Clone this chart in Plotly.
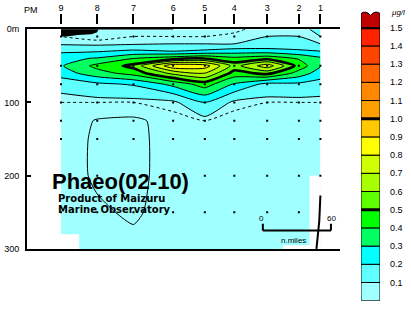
import plotly.graph_objects as go

W, H = 411, 311
def fx(px): return px / W
def fy(py): return 1 - py / H

# ---------------- data ----------------
stations = ['9', '8', '7', '6', '5', '4', '3', '2', '1']
station_nmi = [0, 32, 64, 99, 127, 153, 182, 210, 229]
depths = [0, 10, 20, 30, 40, 50, 60, 75, 100, 125, 150, 200, 250, 300]
bottom_depth = [280, 300, 300, 300, 300, 300, 300, 295, 200]
sample_depths = [10, 50, 75, 100, 125, 150, 200, 250]

# Phaeo (ug/l); rows = depth, columns = stations 9..1
phaeo = [
    [0.05, 0.05, 0.05, 0.05, 0.06, 0.06, 0.09, 0.09, 0.11],
    [0.07, 0.06, 0.07, 0.07, 0.07, 0.08, 0.10, 0.10, 0.10],
    [0.09, 0.08, 0.09, 0.10, 0.10, 0.10, 0.11, 0.12, 0.10],
    [0.18, 0.19, 0.22, 0.20, 0.22, 0.25, 0.25, 0.22, 0.20],
    [0.27, 0.31, 0.40, 0.46, 0.50, 0.43, 0.47, 0.39, 0.32],
    [0.29, 0.43, 0.53, 0.88, 0.85, 0.56, 0.76, 0.46, 0.31],
    [0.25, 0.36, 0.44, 0.63, 0.70, 0.46, 0.53, 0.36, 0.25],
    [0.13, 0.18, 0.21, 0.33, 0.45, 0.29, 0.17, 0.18, 0.16],
    [0.07, 0.07, 0.07, 0.08, 0.20, 0.08, 0.07, 0.07, 0.07],
    [0.065, 0.048, 0.045, 0.06, 0.07, 0.058, 0.058, 0.058, 0.058],
    [0.065, 0.045, 0.04, 0.065, 0.06, 0.058, 0.058, 0.058, 0.058],
    [0.065, 0.045, 0.04, 0.065, 0.06, 0.058, 0.058, 0.058, 0.058],
    [0.065, 0.055, 0.045, 0.065, 0.06, 0.058, 0.058, 0.058, 0.058],
    [0.065, 0.06, 0.06, 0.065, 0.06, 0.058, 0.058, 0.058, 0.058],
]

cb_bounds = [round(0.1 * k, 1) for k in range(15)]
cb_labels = ['0.1', '0.2', '0.3', '0.4', '0.5', '0.6', '0.7', '0.8', '0.9', '1.0',
             '1.1', '1.2', '1.3', '1.4', '1.5']
colors = ['#a0ffff', '#60ffff', '#00ffff', '#00ff60', '#00ff00', '#60ff00', '#a8ff00',
          '#d0ff00', '#ffff00', '#ffc800', '#ffa000', '#ff8800', '#ff6600', '#ff4400',
          '#ff2200', '#c00000']

# ---------------- figure ----------------
fig = go.Figure()
cscale = [[k / 15, c] for k, c in enumerate(colors)]

fig.add_trace(go.Contour(
    x=station_nmi, y=depths, z=phaeo, colorscale=cscale, showscale=False,
    autocontour=False, contours=dict(start=0.1, end=1.5, size=0.1, coloring='fill'),
    line=dict(color='black', width=1, smoothing=0.6), hoverinfo='skip'))
fig.add_trace(go.Contour(
    x=station_nmi, y=depths, z=phaeo, showscale=False, autocontour=False,
    contours=dict(start=0.05, end=0.05, size=1, coloring='none'),
    line=dict(color='black', width=1, smoothing=0.6), hoverinfo='skip'))
fig.add_trace(go.Contour(
    x=station_nmi, y=depths, z=phaeo, showscale=False, autocontour=False,
    contours=dict(start=0.07, end=0.07, size=1, coloring='none'),
    line=dict(color='black', width=1, dash='dot', smoothing=0.6), hoverinfo='skip'))
fig.add_trace(go.Contour(
    x=station_nmi, y=depths, z=phaeo, showscale=False, autocontour=False,
    contours=dict(start=0.5, end=1.5, size=0.5, coloring='none'),
    line=dict(color='black', width=2.6, smoothing=0.6), hoverinfo='skip'))

# bottom mask
fig.add_trace(go.Scatter(x=station_nmi, y=[300] * len(station_nmi), mode='lines',
                         line=dict(width=0, color='white'), hoverinfo='skip'))
fig.add_trace(go.Scatter(x=station_nmi, y=bottom_depth, mode='lines',
                         line=dict(width=0, color='white', shape='hvh'),
                         fill='tonexty', fillcolor='white', hoverinfo='skip'))

# sample dots
dx, dy = [], []
for s, b in zip(station_nmi, bottom_depth):
    for d in sample_depths:
        if d <= b:
            dx.append(s)
            dy.append(d)
fig.add_trace(go.Scatter(x=dx, y=dy, mode='markers',
                         marker=dict(symbol='square', size=2, color='black', line=dict(width=0)),
                         hoverinfo='skip'))

# station axis carrier
fig.add_trace(go.Scatter(x=station_nmi, y=[0] * len(station_nmi), xaxis='x3', yaxis='y',
                         mode='markers', marker=dict(opacity=0), hoverinfo='skip'))

# colour bar
fig.add_trace(go.Bar(x=[0] * 15, y=[0.1] * 15, base=cb_bounds, width=1,
                     marker=dict(color=colors[:15], line=dict(color='black', width=1)),
                     xaxis='x2', yaxis='y2', hoverinfo='skip'))

font = 'Liberation Sans, Arial, sans-serif'
fig.update_layout(
    width=W, height=H, margin=dict(l=0, r=0, t=0, b=0),
    paper_bgcolor='white', plot_bgcolor='rgba(0,0,0,0)', showlegend=False,
    barmode='overlay', font=dict(family=font, size=9, color='black'),
    xaxis=dict(domain=[fx(27), fx(340)], range=[-30, 246.3], showline=True, mirror=True,
               linecolor='black', linewidth=2, showgrid=False, zeroline=False,
               showticklabels=False, ticks=''),
    xaxis3=dict(overlaying='x', matches='x', anchor='free', position=fy(20), side='top',
                domain=[fx(27), fx(340)], tickvals=station_nmi, ticktext=stations,
                ticks='outside', ticklen=10, tickwidth=2, tickcolor='black',
                showline=False, showgrid=False, zeroline=False,
                tickfont=dict(size=9, family=font)),
    yaxis=dict(domain=[fy(252), fy(25)], range=[300, 0], showline=True, linecolor='black',
               linewidth=2, showgrid=False, zeroline=False, tickvals=[0, 100, 200, 300],
               ticktext=['0m', '100', '200', '300'], ticks='inside', ticklen=4, tickwidth=2,
               tickcolor='black', ticklabelstandoff=4, tickfont=dict(size=9, family=font)),
    xaxis2=dict(domain=[fx(361), fx(380)], range=[-0.5, 0.5], visible=False, anchor='y2'),
    yaxis2=dict(domain=[fy(305.5), fy(305.5 - 16 * 18.8)], range=[0, 1.6], anchor='x2',
                side='right', tickvals=[0.1 * (k + 1) for k in range(15)], ticktext=cb_labels,
                ticks='', showline=False, showgrid=False, zeroline=False,
                ticklabelstandoff=9, tickfont=dict(size=9, family=font)),
)

shapes = []
# thick lines on colour bar
for v in [0.5, 1.0, 1.5]:
    shapes.append(dict(type='line', xref='x2', yref='y2', x0=-0.5, x1=0.5, y0=v, y1=v,
                       line=dict(color='black', width=3)))
# top cap of colour bar
shapes.append(dict(type='path', xref='x2', yref='y2',
                   path='M -0.5,1.5 L -0.5,1.578 Q -0.25,1.598 0,1.568 Q 0.25,1.598 0.5,1.578 L 0.5,1.5 Z',
                   fillcolor='#c00000', line=dict(color='black', width=1)))
# black no-data patch near the surface
shapes.append(dict(type='path', xref='x', yref='y',
                   path='M 0,0 L 33,0 L 32,4 L 27,7 L 15,8 L 5,10 L 0,10 Z',
                   fillcolor='black', line=dict(color='black', width=0)))
# bottom line near station 1
shapes.append(dict(type='path', xref='x', yref='y', path='M 229,227 L 228,262 L 225.5,300',
                   line=dict(color='black', width=2)))
# scale bar
shapes.append(dict(type='line', xref='x', yref='paper', x0=178.2, x1=238.3, y0=fy(233), y1=fy(233),
                   line=dict(color='black', width=2)))
for xv in [178.2, 238.3]:
    shapes.append(dict(type='line', xref='x', yref='paper', x0=xv, x1=xv, y0=fy(226), y1=fy(233),
                       line=dict(color='black', width=2)))
fig.update_layout(shapes=shapes)

dv = 'DejaVu Sans, Liberation Sans, sans-serif'
ann = [
    dict(text='PM', x=fx(31), y=fy(5), xanchor='center', yanchor='middle', size=9, fam=font),
    dict(text='<b>Phaeo(02-10)</b>', x=fx(50), y=fy(182.5), xanchor='left', yanchor='middle', size=22, fam=font),
    dict(text='<b>Product of Maizuru</b>', x=fx(56), y=fy(199.5), xanchor='left', yanchor='middle', size=10, fam=dv),
    dict(text='<b>Marine Observatory</b>', x=fx(56), y=fy(211), xanchor='left', yanchor='middle', size=10, fam=dv),
    dict(text='0', x=fx(261), y=fy(221), xanchor='center', yanchor='middle', size=8, fam=font),
    dict(text='60', x=fx(331), y=fy(221), xanchor='center', yanchor='middle', size=8, fam=font),
    dict(text='n.miles', x=fx(293), y=fy(243), xanchor='center', yanchor='middle', size=8, fam=font),
    dict(text='<i>μg/l</i>', x=fx(398), y=fy(8), xanchor='center', yanchor='middle', size=8, fam=font),
]
for a in ann:
    fig.add_annotation(text=a['text'], x=a['x'], y=a['y'], xref='paper', yref='paper',
                       xanchor=a['xanchor'], yanchor=a['yanchor'], showarrow=False,
                       font=dict(size=a['size'], family=a['fam'], color='black'))

fig.write_html('out.html')
